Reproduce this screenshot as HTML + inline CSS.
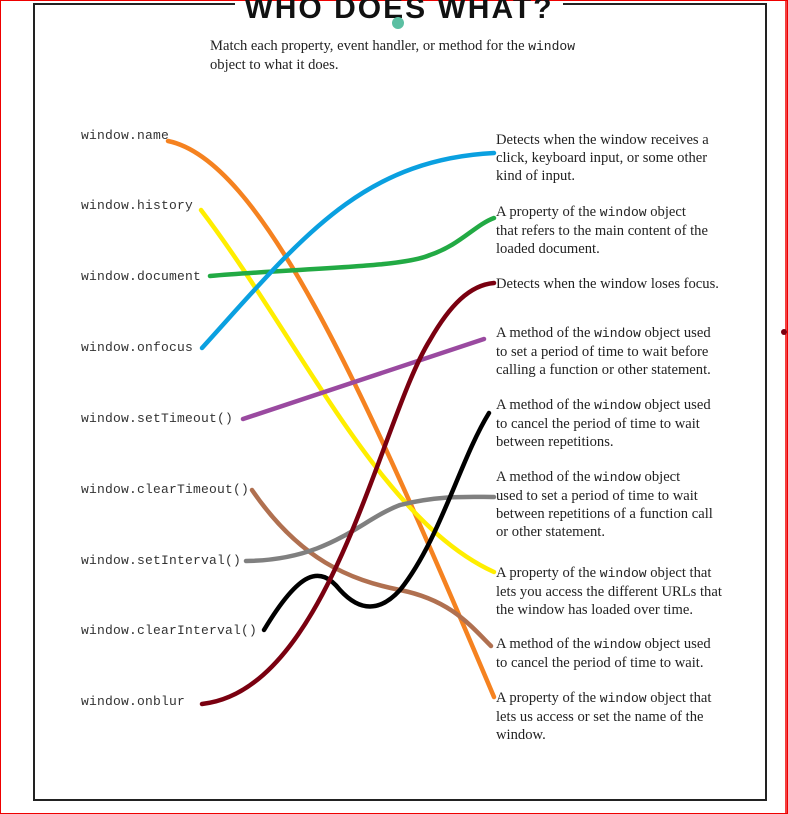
<!DOCTYPE html>
<html><head><meta charset="utf-8"><style>
html,body{margin:0;padding:0;background:#fff;}
#wrap{position:relative;width:788px;height:814px;overflow:hidden;background:#fff;}
.lbl{position:absolute;font-family:"Liberation Mono",monospace;font-size:13px;letter-spacing:0.2px;color:#333;white-space:nowrap;}
.desc{position:absolute;left:496px;width:250px;font-family:"Liberation Serif",serif;font-size:14.6px;line-height:18px;color:#222;white-space:nowrap;}
.desc code{font-family:"Liberation Mono",monospace;font-size:13px;}
</style></head><body>
<div id="wrap">
<svg id="svg" width="788" height="814" style="position:absolute;left:0;top:0">
  <rect x="0.5" y="0.5" width="787" height="813" fill="none" stroke="#e00" stroke-width="1"/>
  <line x1="786" y1="0" x2="786" y2="814" stroke="#e00" stroke-width="1.5"/>
  <polyline points="235,4 34,4 34,800 766,800 766,4 563,4" fill="none" stroke="#222" stroke-width="2"/>
  <text x="399" y="18" text-anchor="middle" font-family="Liberation Sans, sans-serif" font-weight="bold" font-size="30" letter-spacing="2" fill="#111">WHO DOES WHAT?</text>
  <circle cx="398" cy="23" r="6" fill="#5bbfa2"/>
  <circle cx="784" cy="332" r="3" fill="#7a0010"/>
  <g id="curves"></g>
</svg>
<div style="position:absolute;left:210px;top:37px;width:400px;font-family:'Liberation Serif',serif;font-size:14.6px;line-height:18px;color:#222">Match each property, event handler, or method for the <code style="font-family:'Liberation Mono',monospace;font-size:13px">window</code><br>object to what it does.</div>
<div id="lefts"></div>
<div class="desc" style="top:131px">Detects when the window receives a<br>click, keyboard input, or some other<br>kind of input.</div>
<div class="desc" style="top:203px">A property of the <code>window</code> object<br>that refers to the main content of the<br>loaded document.</div>
<div class="desc" style="top:275px">Detects when the window loses focus.</div>
<div class="desc" style="top:324px">A method of the <code>window</code> object used<br>to set a period of time to wait before<br>calling a function or other statement.</div>
<div class="desc" style="top:396px">A method of the <code>window</code> object used<br>to cancel the period of time to wait<br>between repetitions.</div>
<div class="desc" style="top:468px">A method of the <code>window</code> object<br>used to set a period of time to wait<br>between repetitions of a function call<br>or other statement.</div>
<div class="desc" style="top:564px">A property of the <code>window</code> object that<br>lets you access the different URLs that<br>the window has loaded over time.</div>
<div class="desc" style="top:635px">A method of the <code>window</code> object used<br>to cancel the period of time to wait.</div>
<div class="desc" style="top:689px">A property of the <code>window</code> object that<br>lets us access or set the name of the<br>window.</div>
</div>
<script>
const leftLabels=["window.name","window.history","window.document","window.onfocus","window.setTimeout()","window.clearTimeout()","window.setInterval()","window.clearInterval()","window.onblur"];
const leftY=[137,207,278,349,420,491,562,632,703];
const colors=["#f58220","#ffee00","#22aa44","#0aa0e0","#9a4aa0","#b07050","#808080","#000000","#7a0010"];
const curvePaths=[
 "M168,141 C260,160 360,380 494,697",
 "M201,210 C300,340 380,520 494,572",
 "M210,276 C300,268 400,268 430,255 C460,245 475,225 494,218",
 "M202,348 C300,240 360,160 494,153",
 "M243,419 L484,339",
 "M252,490 C300,560 350,580 400,590 C450,600 470,625 491,646",
 "M246,561 C330,560 360,520 400,505 C440,495 470,497 494,497",
 "M264,630 C300,570 320,565 340,590 C360,612 380,612 400,590 C440,540 460,460 489,413",
 "M202,704 C330,690 380,420 430,340 C450,305 470,285 494,283"
];
const lefts=document.getElementById('lefts');
leftLabels.forEach((t,i)=>{
 const d=document.createElement('div');
 d.className='lbl';
 d.style.left='81px';d.style.top=(leftY[i]-9)+'px';
 d.textContent=t;
 
 
 lefts.appendChild(d);
});
const g=document.getElementById('curves');
curvePaths.forEach((p,i)=>{
 const e=document.createElementNS('http://www.w3.org/2000/svg','path');
 e.setAttribute('d',p);
 e.setAttribute('fill','none');
 e.setAttribute('stroke',colors[i]);
 e.setAttribute('stroke-width','4.5');
 e.setAttribute('stroke-linecap','round');
 
 
 g.appendChild(e);
});
</script>
</body></html>
